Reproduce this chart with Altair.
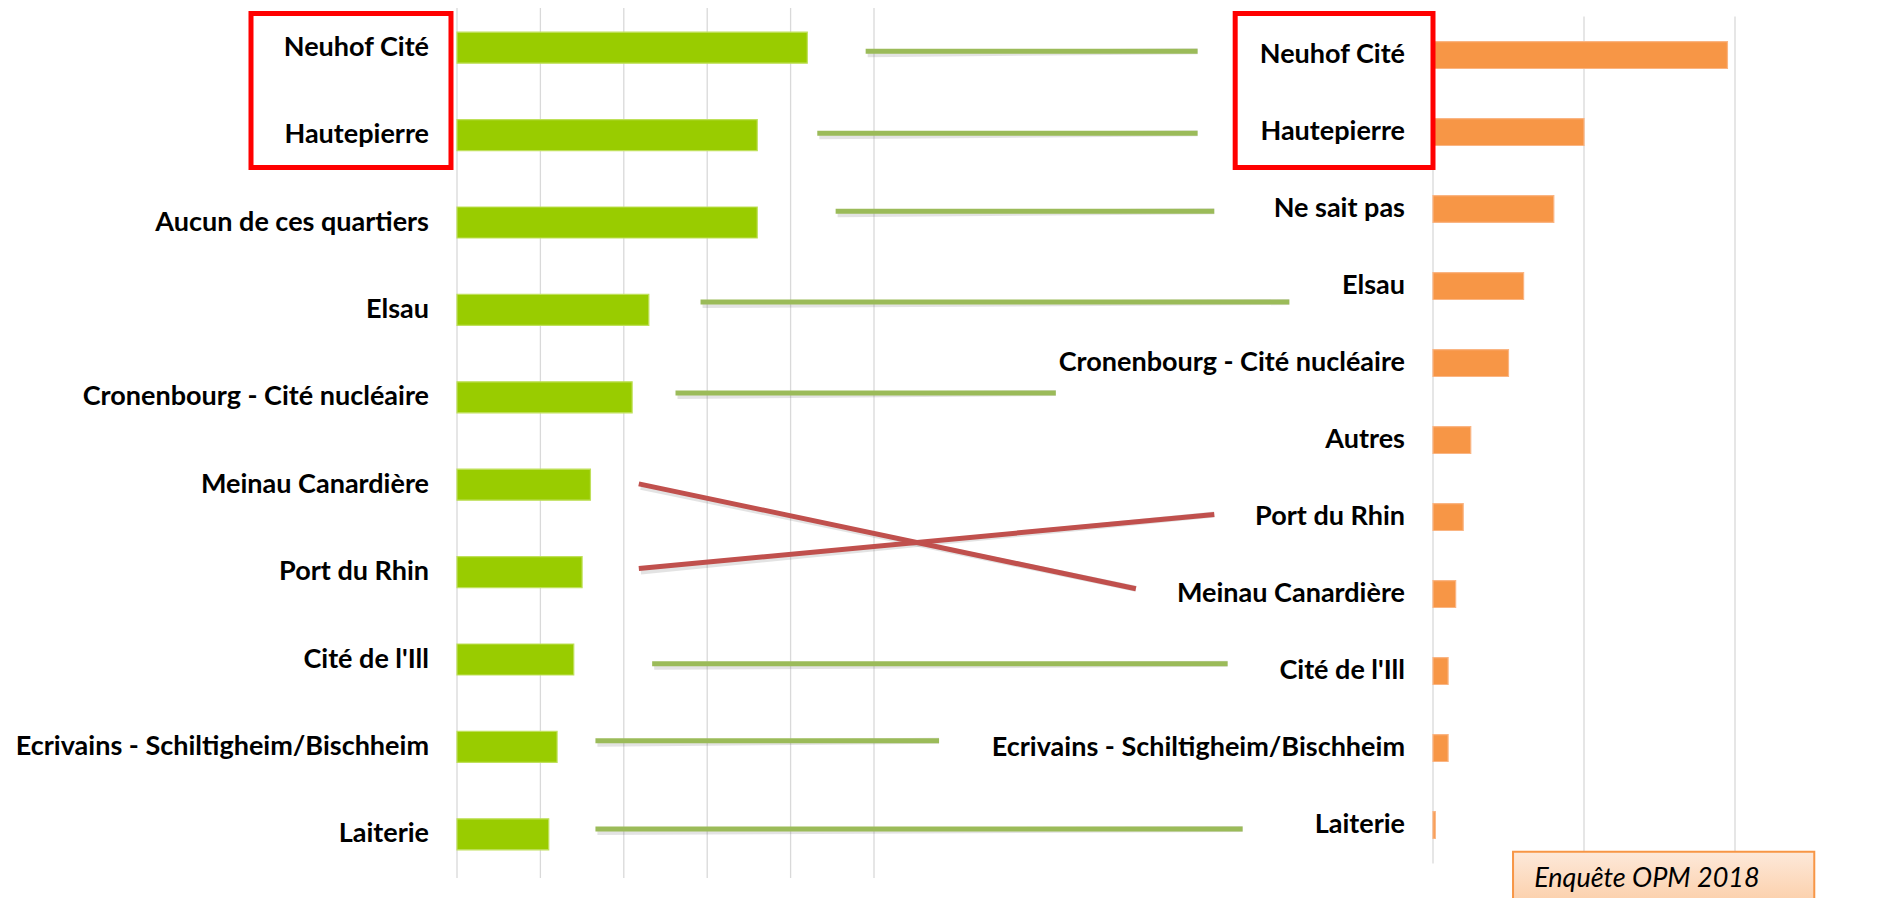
import altair as alt
import pandas as pd

# ---------------- data ----------------
left_cats = ["Neuhof Cité", "Hautepierre", "Aucun de ces quartiers", "Elsau",
             "Cronenbourg - Cité nucléaire", "Meinau Canardière", "Port du Rhin",
             "Cité de l'Ill", "Ecrivains - Schiltigheim/Bischheim", "Laiterie"]
left_vals = [21, 18, 18, 11.5, 10.5, 8, 7.5, 7, 6, 5.5]

right_cats = ["Neuhof Cité", "Hautepierre", "Ne sait pas", "Elsau",
              "Cronenbourg - Cité nucléaire", "Autres", "Port du Rhin",
              "Meinau Canardière", "Cité de l'Ill",
              "Ecrivains - Schiltigheim/Bischheim", "Laiterie"]
right_vals = [39, 20, 16, 12, 10, 5, 4, 3, 2, 2, 0.3]

left_grid = [0, 5, 10, 15, 20, 25]
right_grid = [0, 20, 40]

# connector lines (x in left-axis units, y in row units)
link_from = ["Neuhof Cité", "Hautepierre", "Aucun de ces quartiers", "Elsau",
             "Cronenbourg - Cité nucléaire", "Meinau Canardière", "Port du Rhin",
             "Cité de l'Ill", "Ecrivains - Schiltigheim/Bischheim", "Laiterie"]
link_kind = ["same", "same", "same", "same", "same", "swap", "swap", "same", "same", "same"]
link_x0 = [24.5, 21.6, 22.7, 14.6, 13.1, 10.9, 10.9, 11.7, 8.3, 8.3]
link_x1 = [44.4, 44.4, 45.4, 49.9, 35.9, 40.7, 45.4, 46.2, 28.9, 47.1]
link_r0 = [0.54, 1.48, 2.37, 3.41, 4.45, 5.49, 6.46, 7.55, 8.43, 9.44]
link_r1 = [0.54, 1.48, 2.37, 3.41, 4.45, 6.69, 5.84, 7.55, 8.43, 9.44]

# highlight boxes around "Neuhof Cité" / "Hautepierre" labels
lbox_x = [-12.35, -0.36]
rbox_x = [-26.2, 0]
box_rows = [0.11, 1.87]

# source note
source_text = ["Enquête OPM 2018"]
source_box_x = [10.6, 50.5]
source_box_rows = [9.70, 10.6]
source_text_pos = [13.4, 10.10]

# ---------------- layout / scales ----------------
W, H = 1864, 890
LX = alt.Scale(domain=[0, 25], range=[449, 866], nice=False, zero=False)
LY = alt.Scale(domain=left_cats, range=[-4, 870], paddingInner=0.645, paddingOuter=0.3225)
RX = alt.Scale(domain=[0, 40], range=[1425, 1727], nice=False, zero=False)
RY = alt.Scale(domain=right_cats, range=[8.5, 855.5], paddingInner=0.65, paddingOuter=0.325)
ROW = alt.Scale(domain=[0, 10], range=[-4, 870], nice=False, zero=False)
RROW = alt.Scale(domain=[0, 11], range=[8.5, 855.5], nice=False, zero=False)

FONT = "Lato"
GREEN_BAR = "#99CC00"
ORANGE_BAR = "#F79646"

left_df = pd.DataFrame({"cat": left_cats, "val": left_vals})
right_df = pd.DataFrame({"cat": right_cats, "val": right_vals})
lgrid_df = pd.DataFrame({"v": left_grid})
rgrid_df = pd.DataFrame({"v": right_grid})
link_df = pd.DataFrame({"cat": link_from, "kind": link_kind,
                        "x0": link_x0, "x1": link_x1, "r0": link_r0, "r1": link_r1})
lbox_df = pd.DataFrame({"x0": [lbox_x[0]], "x1": [lbox_x[1]], "r0": [box_rows[0]], "r1": [box_rows[1]]})
rbox_df = pd.DataFrame({"x0": [rbox_x[0]], "x1": [rbox_x[1]], "r0": [box_rows[0]], "r1": [box_rows[1]]})
src_df = pd.DataFrame({"x0": [source_box_x[0]], "x1": [source_box_x[1]],
                       "r0": [source_box_rows[0]], "r1": [source_box_rows[1]],
                       "tx": [source_text_pos[0]], "tr": [source_text_pos[1]],
                       "t": source_text})

# grid lines
lgrid = alt.Chart(lgrid_df).mark_rule(color="#D9D9D9", strokeWidth=1.3).encode(
    x=alt.X("v:Q", scale=LX, axis=None),
    y=alt.YDatum(0, type="quantitative", scale=ROW, axis=None),
    y2=alt.Y2Datum(10),
)
rgrid = alt.Chart(rgrid_df).mark_rule(color="#D9D9D9", strokeWidth=1.3).encode(
    x=alt.X("v:Q", scale=RX, axis=None),
    y=alt.YDatum(0, type="quantitative", scale=RROW, axis=None),
    y2=alt.Y2Datum(11),
)

# bars
lbars = alt.Chart(left_df).mark_bar(color=GREEN_BAR, stroke="#BFE05A", strokeWidth=1.2).encode(
    x=alt.X("val:Q", scale=LX, axis=None),
    y=alt.Y("cat:N", scale=LY, axis=None, sort=left_cats),
)
rbars = alt.Chart(right_df).mark_bar(color=ORANGE_BAR, stroke="#FAB583", strokeWidth=1.2).encode(
    x=alt.X("val:Q", scale=RX, axis=None),
    y=alt.Y("cat:N", scale=RY, axis=None, sort=right_cats),
)

# labels
llabels = alt.Chart(left_df).mark_text(align="right", baseline="middle", dx=-28,
                                       font=FONT, fontWeight="bold", fontSize=27,
                                       color="#000000").encode(
    x=alt.XDatum(0, type="quantitative", scale=LX, axis=None),
    y=alt.Y("cat:N", scale=LY, axis=None, sort=left_cats),
    text="cat:N",
)
rlabels = alt.Chart(right_df).mark_text(align="right", baseline="middle", dx=-28,
                                        font=FONT, fontWeight="bold", fontSize=27,
                                        color="#000000").encode(
    x=alt.XDatum(0, type="quantitative", scale=RX, axis=None),
    y=alt.Y("cat:N", scale=RY, axis=None, sort=right_cats),
    text="cat:N",
)

# connector shadows and lines
link_shadow = alt.Chart(link_df).mark_rule(color="#7F7F7F", opacity=0.22, strokeWidth=6,
                                           xOffset=2, yOffset=3, strokeCap="butt").encode(
    x=alt.X("x0:Q", scale=LX, axis=None), x2="x1:Q",
    y=alt.Y("r0:Q", scale=ROW, axis=None), y2="r1:Q",
)
links = alt.Chart(link_df).mark_rule(strokeWidth=5, strokeCap="butt").encode(
    x=alt.X("x0:Q", scale=LX, axis=None), x2="x1:Q",
    y=alt.Y("r0:Q", scale=ROW, axis=None), y2="r1:Q",
    color=alt.Color("kind:N", scale=alt.Scale(domain=["same", "swap"],
                                              range=["#9BBB59", "#C0504D"]), legend=None),
)

# highlight boxes
lbox = alt.Chart(lbox_df).mark_rect(fillOpacity=0, stroke="#FF0000", strokeWidth=5).encode(
    x=alt.X("x0:Q", scale=LX, axis=None), x2="x1:Q",
    y=alt.Y("r0:Q", scale=ROW, axis=None), y2="r1:Q",
)
rbox = alt.Chart(rbox_df).mark_rect(fillOpacity=0, stroke="#FF0000", strokeWidth=5).encode(
    x=alt.X("x0:Q", scale=RX, axis=None), x2="x1:Q",
    y=alt.Y("r0:Q", scale=ROW, axis=None), y2="r1:Q",
)

# source note
grad = alt.LinearGradient(gradient="linear",
                          stops=[alt.GradientStop(color="#FDE9DA", offset=0),
                                 alt.GradientStop(color="#FBC190", offset=1)],
                          x1=0, x2=0, y1=0, y2=1)
src_box = alt.Chart(src_df).mark_rect(fill=grad, stroke="#F79646", strokeWidth=2).encode(
    x=alt.X("x0:Q", scale=RX, axis=None), x2="x1:Q",
    y=alt.Y("r0:Q", scale=ROW, axis=None), y2="r1:Q",
)
src_txt = alt.Chart(src_df).mark_text(align="left", baseline="alphabetic", font=FONT,
                                      fontStyle="italic", fontSize=27, color="#000000").encode(
    x=alt.X("tx:Q", scale=RX, axis=None),
    y=alt.Y("tr:Q", scale=ROW, axis=None),
    text="t:N",
)

chart = alt.layer(
    lgrid, rgrid, lbars, rbars, llabels, rlabels,
    link_shadow, links, lbox, rbox, src_box, src_txt,
).resolve_scale(x="independent", y="independent", color="independent").properties(
    width=W, height=H, padding=0, autosize=alt.AutoSizeParams(type="none"),
).configure_view(stroke=None)

chart.save("out.html", embed_options={"renderer": "svg", "actions": False})
